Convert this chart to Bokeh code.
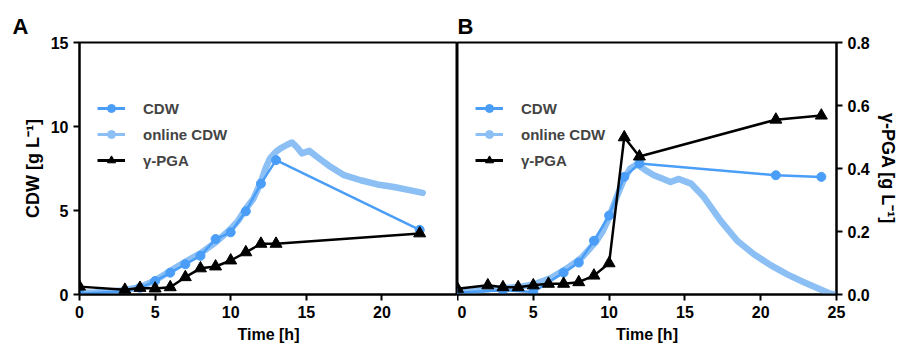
from bokeh.plotting import figure
from bokeh.layouts import row
from bokeh.models import (Range1d, LinearAxis, FixedTicker, Legend, LegendItem,
                          NumeralTickFormatter)
from bokeh.embed import file_html
from bokeh.resources import INLINE

NAN = float("nan")

# ---------------- data: panel A ----------------
a_cdw_t = [0, 3, 4, 5, 6, 7, 8, 9, 10, 11, 12, 13, 22.5]
a_cdw_v = [0.05, 0.2, 0.4, 0.8, 1.3, 1.8, 2.3, 3.3, 3.7, 4.95, 6.6, 8.0, 3.85]

a_pga_t = [0, 3, 4, 5, 6, 7, 8, 9, 10, 11, 12, 13, 22.5]
a_pga_v = [0.025, 0.015, 0.021, 0.019, 0.023, 0.055, 0.083, 0.089, 0.108, 0.134, 0.161, 0.161, 0.194]

a_on_t = [0, 1, 2, 2.8, 4, 5, 6, 7, 8, 9, 10, 10.5, 11, 11.5, 12, 12.3, 12.6, 13, 13.3, 13.7,
          14.05, 14.4, 14.7, 15.2, 15.7, 16.6, 17.5, 18.6, 19.7, 20.8, 21.9, 22.7]
a_on_v = [0.1, 0.12, 0.18, 0.24, 0.43, 0.83, 1.4, 1.95, 2.45, 3.1, 3.9, 4.4, 5.1, 5.7, 6.7, 7.5,
          8.1, 8.5, 8.7, 8.9, 9.05, 8.75, 8.4, 8.55, 8.2, 7.6, 7.1, 6.8, 6.55, 6.4, 6.2, 6.05]

# ---------------- data: panel B ----------------
b_cdw_t = [0, 3, 5, 7, 8, 9, 10, 11, 12, 21, 24]
b_cdw_v = [0.1, 0.25, 0.15, 1.3, 1.9, 3.2, 4.7, 7.0, 7.8, 7.1, 7.0]

b_pga_t = [0, 2, 3, 4, 5, 6, 7, 8, 9, 10, 11, 12, 21, 24]
b_pga_v = [0.018, 0.029, 0.023, 0.023, 0.029, 0.034, 0.034, 0.039, 0.060, 0.099, 0.499, 0.438, 0.555, 0.568]

b_on_t = [0, 1, 2, 3, 4, 5.1, 6.2, 7.3, 8.2, 9.1, 9.6, 10, 10.5, 11, 11.4, 11.85, 12.4, 12.95,
          13.5, 14.05, 14.6, 15.4, 16.25, 17.35, 18.45, 19.55, 20.65, 21.75, 22.85, 23.95, 24.6, 24.9]
b_on_v = [0.12, 0.2, 0.32, 0.38, 0.44, 0.62, 1.0, 1.6, 2.2, 3.1, 3.8, 4.6, 5.8, 6.9, 7.5, 7.75,
          7.4, 7.1, 6.9, 6.7, 6.88, 6.6, 5.8, 4.4, 3.2, 2.4, 1.75, 1.2, 0.73, 0.3, 0.05, 0.0]

a_x_ticks = [0, 5, 10, 15, 20]
b_x_ticks = [0, 5, 10, 15, 20, 25]
cdw_ticks = [0, 5, 10, 15]
pga_ticks = [0, 0.2, 0.4, 0.6, 0.8]

CDW_C = "#4a9ef7"
ON_C = "#8cc0f5"
FONT = "Liberation Sans"


def style_axis(ax, label_size="18px"):
    ax.axis_line_width = 2
    ax.axis_line_color = "black"
    ax.major_tick_line_width = 2
    ax.major_tick_line_color = "black"
    ax.major_tick_out = 6
    ax.major_tick_in = 0
    ax.minor_tick_line_color = None
    ax.major_label_text_font = FONT
    ax.major_label_text_font_style = "bold"
    ax.major_label_text_font_size = "16px"
    ax.major_label_text_color = "black"
    ax.major_label_standoff = 5
    ax.axis_label_text_font = FONT
    ax.axis_label_text_font_style = "bold"
    ax.axis_label_text_font_size = label_size
    ax.axis_label_text_color = "black"
    ax.axis_label_standoff = 5


def add_series(p, on_t, on_v, cdw_t, cdw_v, pga_t, pga_v):
    p.line(on_t, on_v, line_color=ON_C, line_width=6.5, line_join="round", line_cap="round")
    p.line(cdw_t, cdw_v, line_color=CDW_C, line_width=2.5)
    p.scatter(cdw_t, cdw_v, marker="circle", size=9, fill_color=CDW_C, line_color=CDW_C)
    p.line(pga_t, pga_v, line_color="black", line_width=2.5, y_range_name="pga")
    p.scatter(pga_t, pga_v, marker="triangle", size=12, fill_color="black", line_color="black",
              y_range_name="pga")
    # legend-only renderers (NaN data, nothing drawn in the plot) with the legend's look
    l1 = p.line([NAN], [NAN], line_color=CDW_C, line_width=3)
    m1 = p.scatter([NAN], [NAN], marker="circle", size=9, fill_color=CDW_C, line_color=CDW_C)
    l2 = p.line([NAN], [NAN], line_color=ON_C, line_width=3)
    m2 = p.scatter([NAN], [NAN], marker="circle", size=6, fill_color=ON_C, line_color=ON_C)
    l3 = p.line([NAN], [NAN], line_color="black", line_width=3)
    m3 = p.scatter([NAN], [NAN], marker="triangle", size=12, fill_color="black", line_color="black")
    legend = Legend(items=[LegendItem(label="CDW", renderers=[l1, m1]),
                           LegendItem(label="online CDW", renderers=[l2, m2]),
                           LegendItem(label="\u03b3-PGA", renderers=[l3, m3])],
                    location=(18, 124), glyph_width=28, glyph_height=20, label_height=20,
                    spacing=6, padding=0, margin=0, label_standoff=18,
                    border_line_color=None, background_fill_alpha=0,
                    label_text_font=FONT, label_text_font_style="bold",
                    label_text_font_size="15px")
    p.add_layout(legend)


def style_title(p):
    p.title.text_font = FONT
    p.title.text_font_style = "bold"
    p.title.text_font_size = "22px"
    p.title.text_color = "black"
    p.title.align = "left"
    p.title.standoff = 7


# ---------------- panel A ----------------
pA = figure(width=457, height=354, x_range=Range1d(0, 25), y_range=Range1d(0, 15),
            output_backend="svg", toolbar_location=None, title="A",
            min_border_left=79, min_border_right=0, min_border_top=42, min_border_bottom=60)
pA.extra_y_ranges = {"pga": Range1d(0, 0.8)}
pA.grid.visible = False
pA.outline_line_color = "black"
pA.outline_line_width = 2
pA.xaxis.ticker = FixedTicker(ticks=a_x_ticks)
pA.yaxis.ticker = FixedTicker(ticks=cdw_ticks)
pA.xaxis.axis_label = "Time [h]"
pA.yaxis.axis_label = "CDW [g L\u207b\u00b9]"
style_axis(pA.xaxis[0], "16px")
style_axis(pA.yaxis[0], "18px")
style_title(pA)
pA.title.offset = -67
add_series(pA, a_on_t, a_on_v, a_cdw_t, a_cdw_v, a_pga_t, a_pga_v)

# ---------------- panel B ----------------
pB = figure(width=445, height=354, x_range=Range1d(0, 25), y_range=Range1d(0, 15),
            output_backend="svg", toolbar_location=None, y_axis_location=None, title="B",
            min_border_left=0, min_border_right=66, min_border_top=42, min_border_bottom=60)
pB.extra_y_ranges = {"pga": Range1d(0, 0.8)}
pB.grid.visible = False
pB.outline_line_color = "black"
pB.outline_line_width = 2
pB.xaxis.ticker = FixedTicker(ticks=b_x_ticks)
pB.xaxis.axis_label = "Time [h]"
style_axis(pB.xaxis[0], "16px")
ra = LinearAxis(y_range_name="pga", axis_label="\u03b3-PGA [g L\u207b\u00b9]",
                ticker=FixedTicker(ticks=pga_ticks),
                formatter=NumeralTickFormatter(format="0.0"))
style_axis(ra, "18px")
pB.add_layout(ra, "right")
style_title(pB)
pB.title.offset = 0
add_series(pB, b_on_t, b_on_v, b_cdw_t, b_cdw_v, b_pga_t, b_pga_v)

layout = row(pA, pB)
open("out.html", "w").write(file_html(layout, INLINE))
